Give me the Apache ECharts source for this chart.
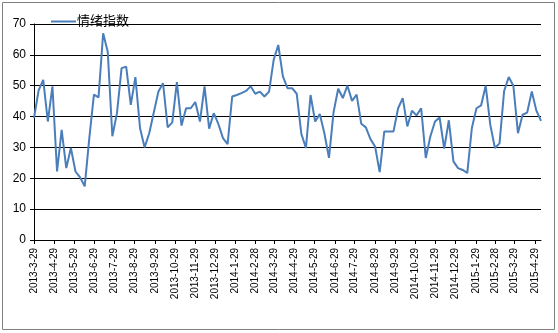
<!DOCTYPE html>
<html>
<head>
<meta charset="utf-8">
<script src="https://cdn.jsdelivr.net/npm/echarts@6/dist/echarts.min.js"></script>
<style>
  html, body { margin: 0; padding: 0; background: #fff; }
  #chart { width: 558px; height: 333px; }
</style>
</head>
<body>
<div id="chart"></div>
<script>
// Weekly sentiment index, first reading on 2013-3-29, one reading per week
const seriesName = '情绪指数';
const firstDate = '2013-3-29';
const weeklyValues = [
  39.5, 48.5, 51.9, 38.4, 49.8, 22.2, 35.7, 23.3, 29.8, 22.2,
  20.3, 17.4, 33.0, 47.1, 46.2, 67.0, 61.0, 33.6, 41.1, 55.7,
  56.2, 43.8, 52.8, 36.3, 30.0, 34.6, 41.4, 48.1, 50.8, 36.5,
  38.1, 51.2, 37.1, 42.7, 42.7, 44.7, 38.4, 49.8, 36.1, 41.1,
  37.6, 33.0, 31.1, 46.5, 47.0, 47.6, 48.3, 49.8, 47.4, 48.1,
  46.5, 48.1, 58.4, 63.2, 53.0, 49.2, 49.2, 47.4, 34.4, 29.8,
  47.0, 38.4, 40.8, 34.6, 26.6, 41.5, 49.0, 46.0, 50.0, 45.1,
  47.1, 37.7, 36.5, 32.7, 30.3, 22.0, 35.2, 35.2, 35.2, 42.7,
  46.0, 36.8, 41.9, 40.4, 42.7, 26.6, 33.6, 38.4, 39.7, 29.6,
  38.8, 25.5, 23.3, 22.7, 21.7, 36.3, 42.7, 43.6, 50.0, 37.3,
  29.8, 31.3, 48.3, 52.8, 50.0, 34.6, 40.6, 41.3, 48.1, 41.9,
  38.6
];
// Month marks shown along the date axis
const tickDates = [
  '2013-3-29', '2013-4-29', '2013-5-29', '2013-6-29', '2013-7-29', '2013-8-29',
  '2013-9-29', '2013-10-29', '2013-11-29', '2013-12-29', '2014-1-29', '2014-2-28',
  '2014-3-29', '2014-4-29', '2014-5-29', '2014-6-29', '2014-7-29', '2014-8-29',
  '2014-9-29', '2014-10-29', '2014-11-29', '2014-12-29', '2015-1-29', '2015-2-28',
  '2015-3-29', '2015-4-29'
];
const yTicks = [0, 10, 20, 30, 40, 50, 60, 70];

// Dates are placed on a linear day axis counted from the first reading
const DAY = 86400000;
function parseDate(s) {
  const p = s.split('-').map(Number);
  return Date.UTC(p[0], p[1] - 1, p[2]);
}
const t0 = parseDate(firstDate);
const dayOf = (s) => Math.round((parseDate(s) - t0) / DAY);

const points = weeklyValues.map((v, i) => [7 * i, v]);
const tickDays = tickDates.map(dayOf);
const labelByDay = {};
tickDates.forEach((s, i) => { labelByDay[tickDays[i]] = s; });

const font = "'Liberation Sans', 'Noto Sans CJK SC', sans-serif";
const lineColor = '#4a7ebb';
const chart = echarts.init(document.getElementById('chart'), null, { renderer: 'canvas' });

chart.setOption({
  animation: false,
  backgroundColor: '#fff',
  textStyle: { fontFamily: font, color: '#000' },
  graphic: [{
    type: 'rect',
    shape: { x: 2.5, y: 2.5, width: 552, height: 327 },
    style: { fill: 'none', stroke: '#7f7f7f', lineWidth: 1 },
    silent: true
  }],
  legend: {
    left: 46,
    top: 10,
    itemWidth: 25,
    itemHeight: 2,
    itemGap: 10,
    textStyle: { fontFamily: font, fontSize: 13, color: '#000', padding: [0, 0, 0, -4] },
    data: [{ name: seriesName, icon: 'rect', itemStyle: { color: lineColor } }]
  },
  grid: { left: 34, right: 17, top: 24, bottom: 93, containLabel: false },
  xAxis: {
    type: 'value',
    min: 0,
    max: points[points.length - 1][0],
    axisLine: { show: true, onZero: false, lineStyle: { color: '#000', width: 1 } },
    axisTick: { show: true, customValues: tickDays, length: 4, lineStyle: { color: '#000' } },
    axisLabel: {
      customValues: tickDays,
      rotate: 90,
      margin: 8,
      fontSize: 10,
      fontFamily: font,
      color: '#000',
      formatter: (val) => labelByDay[Math.round(val)] || ''
    },
    splitLine: { show: false }
  },
  yAxis: {
    type: 'value',
    min: yTicks[0],
    max: yTicks[yTicks.length - 1],
    interval: 10,
    axisLine: { show: true, lineStyle: { color: '#000', width: 1 } },
    axisTick: { show: true, length: 4, lineStyle: { color: '#000' } },
    axisLabel: { fontSize: 12, fontFamily: font, color: '#000', margin: 8 },
    splitLine: { show: true, lineStyle: { color: '#000', width: 1 } }
  },
  series: [{
    name: seriesName,
    type: 'line',
    data: points,
    symbol: 'none',
    showSymbol: false,
    lineStyle: { color: lineColor, width: 2 },
    itemStyle: { color: lineColor }
  }]
});
</script>
</body>
</html>
